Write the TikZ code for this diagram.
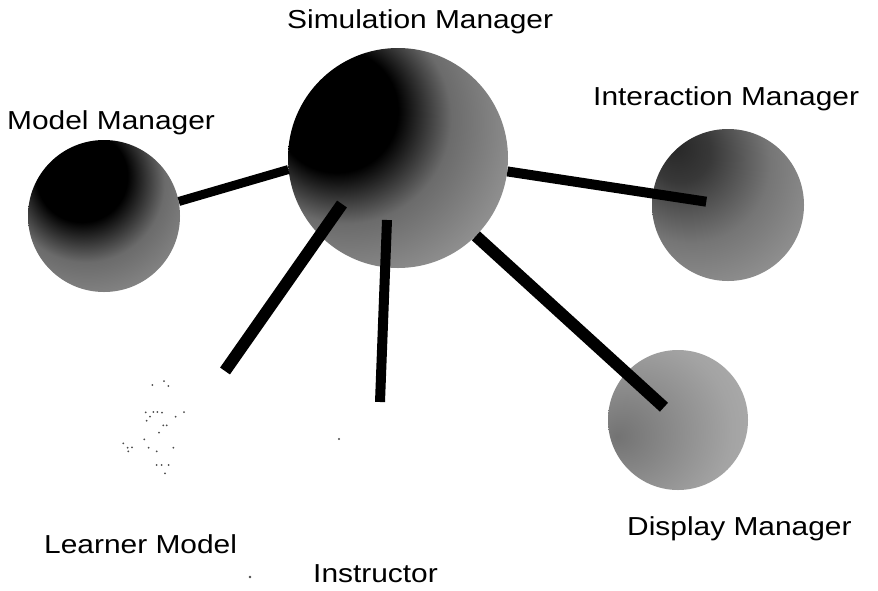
\documentclass[tikz,border=0pt]{standalone}
\usepackage{fontspec}
\setmainfont{Liberation Sans}[FakeStretch=1.15]
\usetikzlibrary{calc}

\pgfdeclareradialshading{simshade}{\pgfpoint{-17bp}{13bp}}{color(0bp)=(black); color(14bp)=(black); color(24bp)=(black!58); color(38bp)=(black!42); color(80bp)=(black!32)}
\pgfdeclareradialshading{modelshade}{\pgfpoint{-9bp}{16bp}}{color(0bp)=(black); color(15bp)=(black); color(26bp)=(black!58); color(42bp)=(black!42); color(80bp)=(black!34)}
\pgfdeclareradialshading{intershade}{\pgfpoint{-18bp}{20bp}}{color(0bp)=(black!85); color(10bp)=(black!78); color(26bp)=(black!54); color(44bp)=(black!40); color(80bp)=(black!32)}
\pgfdeclareradialshading{dispshade}{\pgfpoint{-22bp}{-6bp}}{color(0bp)=(black!55); color(12bp)=(black!48); color(32bp)=(black!36); color(55bp)=(black!28); color(80bp)=(black!24)}

\begin{document}
\begin{tikzpicture}[x=1pt,y=-1pt,
  sphere/.style={circle, inner sep=0pt, draw=none},
  conn/.style={line width=10pt, black},
  speck/.style={fill=black!70},
  lbl/.style={font=\fontsize{26}{30}\selectfont, inner sep=0pt, anchor=base west}]
\useasboundingbox (0,0) rectangle (878,590);
\fill[white] (0,0) rectangle (878,590);

% spheres
\node[sphere, minimum size=220pt, shading=simshade] (sim) at (398,158) {};
\node[sphere, minimum size=152pt, shading=modelshade] (model) at (104,216) {};
\node[sphere, minimum size=152pt, shading=intershade] (inter) at (728,205) {};
\node[sphere, minimum size=140pt, shading=dispshade] (disp) at (678,420) {};
\node[sphere, minimum size=100pt] (learner) at (152,428) {};

% faint specks of the learner model
\foreach \px/\py in {152.3/385,164/381,168.3/386,145.7/412.3,150/416.7,153.3/412,157.3/412,162/412.7,175.7/416.7,184/412,146.7/420.7,163.3/425.3,166.7/425.3,159/432.7,144.3/439.3,123.3/443.3,127.7/447.7,132/447.3,128.3/451.3,148.7/447.7,156.7/451.3,173.3/447.7,156.7/465,161.7/465,168.7/465,165/473.3}
  \fill[speck] (\px,\py) circle (1pt);
\fill[speck] (339,439) circle (1.2pt);
\fill[speck] (250,577) circle (1.3pt);

% free ends
\coordinate (lmtop) at (342,204);
\coordinate (lmend) at (225,371);
\coordinate (insttop) at (387,220);
\coordinate (instend) at (380,402);

% connectors
\draw[conn, line width=9pt] (model.11) -- (sim.186);
\draw[conn, shorten >=22pt] (sim.-7) -- (inter.center);
\draw[conn, line width=12pt, shorten >=19pt] (sim.-45) -- (disp.center);
\draw[conn, line width=12pt] (lmtop) -- (lmend);
\draw[conn] (insttop) -- (instend);

% labels
\node[lbl] (tsim) at (287,28) {Simulation Manager};
\node[lbl] (tmodel) at (7,129) {Model Manager};
\node[lbl] (tinter) at (593,105) {Interaction Manager};
\node[lbl] (tdisp) at (627,535) {Display Manager};
\node[lbl] (tlearn) at (44,553) {Learner Model};
\node[lbl] (tinst) at (313,582) {Instructor};
\end{tikzpicture}
\end{document}
